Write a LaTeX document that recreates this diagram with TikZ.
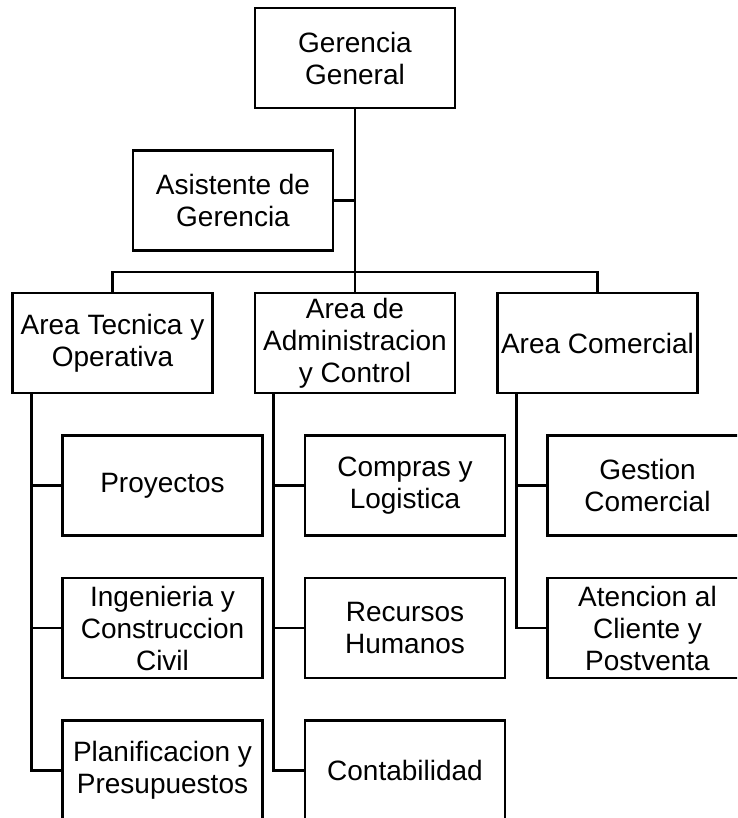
\documentclass[tikz,border=0pt]{standalone}
\usepackage{fontspec}
\setmainfont{Liberation Sans}
\begin{document}
\begin{tikzpicture}[x=1pt, y=1pt, node distance={142.5pt}, line width=2.6pt, main/.style = {draw, rectangle, minimum width=200pt, minimum height=100pt, align=center, inner sep=0pt, font=\fontsize{28}{32}\selectfont}]
\clip (0,0) rectangle (737,-818);
\node[main] (gg) at (355,-58) {Gerencia\\General};
\node[main] (asis) [below of=gg, xshift=-122pt] {Asistente de\\Gerencia};
\node[main] (adm) [below of=asis, xshift=122pt] {Area de\\Administracion\\y Control};
\node[main] (tec) [left of=adm, node distance=242.5pt] {Area Tecnica y\\Operativa};
\node[main] (com) [right of=adm, node distance=242.5pt] {Area Comercial};
\node[main] (proy) [below of=tec, xshift=50pt] {Proyectos};
\node[main] (ing) [below of=proy] {Ingenieria y\\Construccion\\Civil};
\node[main] (plan) [below of=ing] {Planificacion y\\Presupuestos};
\node[main] (comp) [below of=adm, xshift=50pt] {Compras y\\Logistica};
\node[main] (rrhh) [below of=comp] {Recursos\\Humanos};
\node[main] (cont) [below of=rrhh] {Contabilidad};
\node[main] (gest) [below of=com, xshift=50pt] {Gestion\\Comercial};
\node[main] (aten) [below of=gest] {Atencion al\\Cliente y\\Postventa};
\coordinate (bus) at (355,-272);
\draw (gg) -- (adm);
\draw (asis.east) -- (asis.east -| gg.south);
\draw (tec.north) |- (bus) -| (com.north);
\foreach \p/\c in {tec/proy, tec/ing, tec/plan, adm/comp, adm/rrhh, adm/cont, com/gest, com/aten}
  \draw ([xshift=20pt]\p.south west) |- (\c.west);
\end{tikzpicture}
\end{document}
